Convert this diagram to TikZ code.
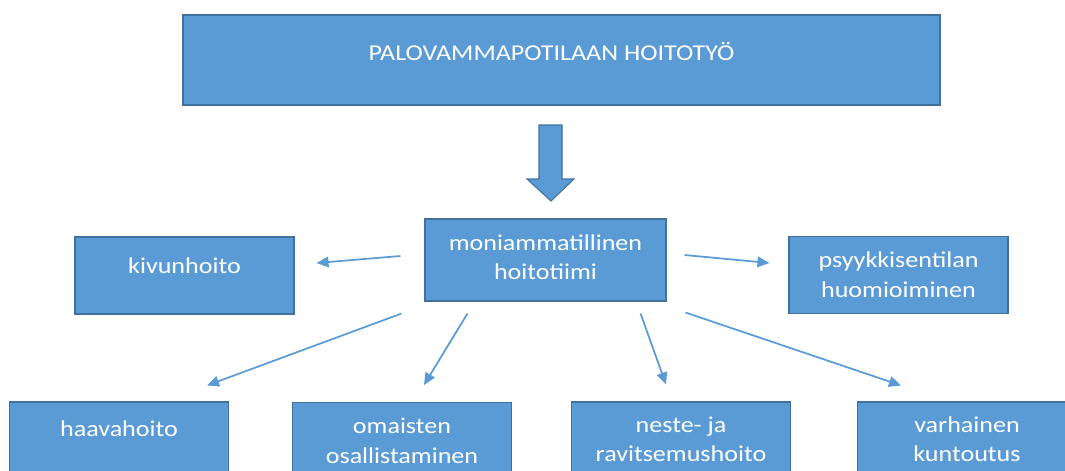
\documentclass[tikz,border=0pt]{standalone}
\usepackage{fontspec}
\setmainfont{Carlito}[FakeStretch=1.15]
\usetikzlibrary{arrows.meta, positioning}
\definecolor{laatikkosin}{HTML}{5B9BD5}
\definecolor{reunasin}{HTML}{41719C}

\begin{document}
\begin{tikzpicture}[x=0.75pt, y=-0.75pt,
  laatikko/.style={draw=reunasin, line width=0.8pt, fill=laatikkosin, rectangle, inner sep=0pt},
  teksti/.style={anchor=north, inner sep=0pt, align=center, text=white, font=\fontsize{17}{22}\selectfont},
  nuoli/.style={-{Triangle[length=9pt, width=8pt]}, draw=laatikkosin, line width=1.3pt}]
\useasboundingbox (0,0) rectangle (1065,471);

% Otsikko
\node (hoitotyo) at (561.5,60) [laatikko, minimum width=567.75pt, minimum height=67.5pt] {};
\node (hoitotyo-t) [teksti] at ([shift={(-10,25)}]hoitotyo.north) {\strut PALOVAMMAPOTILAAN HOITOTYÖ};

% Iso nuoli alas
\draw[laatikko] (539,125) -- (562,125) -- (562,179) -- (574,179) -- (551,201) -- (527,179) -- (539,179) -- cycle;

% Hoitotiimi
\node (tiimi) at (545.5,260) [laatikko, minimum width=180.75pt, minimum height=61.5pt] {};
\node (tiimi-t) [teksti] at ([shift={(0,11)}]tiimi.north) {\strut moniammatillinen\\hoitotiimi};

% Ylärivi
\node (kipu) at (184.5,275.5) [laatikko, minimum width=164.25pt, minimum height=57.75pt] {};
\node (kipu-t) [teksti] at ([shift={(0,16)}]kipu.north) {\strut kivunhoito};

\node (psyyke) at (898.5,275) [laatikko, minimum width=164.25pt, minimum height=57.75pt] {};
\node (psyyke-t) [teksti] at ([shift={(0,11)}]psyyke.north) {\strut psyykkisentilan\\huomioiminen};

% Alarivi
\node (haava) at (119,440.5) [laatikko, minimum width=164.25pt, minimum height=57.75pt] {};
\node (haava-t) [teksti] at ([shift={(0,14)}]haava.north) {\strut haavahoito};

\node (omaiset) at (402,441) [laatikko, minimum width=164.25pt, minimum height=57.75pt] {};
\node (omaiset-t) [teksti] at ([shift={(0,11)}]omaiset.north) {\strut omaisten\\osallistaminen};

\node (ravinto) at (681,440.5) [laatikko, minimum width=164.25pt, minimum height=57.75pt] {};
\node (ravinto-t) [teksti] at ([shift={(0,10)}]ravinto.north) {\strut neste- ja\\ravitsemushoito};

\node (kuntoutus) at (967,440.5) [laatikko, minimum width=164.25pt, minimum height=57.75pt] {};
\node (kuntoutus-t) [teksti] at ([shift={(0,10)}]kuntoutus.north) {\strut varhainen\\kuntoutus};

% Nuolet
\draw[nuoli] ([shift={(-24,-4)}]tiimi.west) -- ([shift={(22,-12.5)}]kipu.east);
\draw[nuoli] ([shift={(18,-5)}]tiimi.east) -- ([shift={(-19,-12)}]psyyke.west);
\draw[nuoli] ([shift={(-23,12)}]tiimi.south west) -- ([shift={(88,-16)}]haava.north);
\draw[nuoli] ([shift={(43,12)}]tiimi.south west) -- ([shift={(22,-17)}]omaiset.north);
\draw[nuoli] ([shift={(-26,12)}]tiimi.south east) -- ([shift={(-15,-17)}]ravinto.north);
\draw[nuoli] ([shift={(19,11)}]tiimi.south east) -- ([shift={(-66,-16)}]kuntoutus.north);
\end{tikzpicture}
\end{document}
